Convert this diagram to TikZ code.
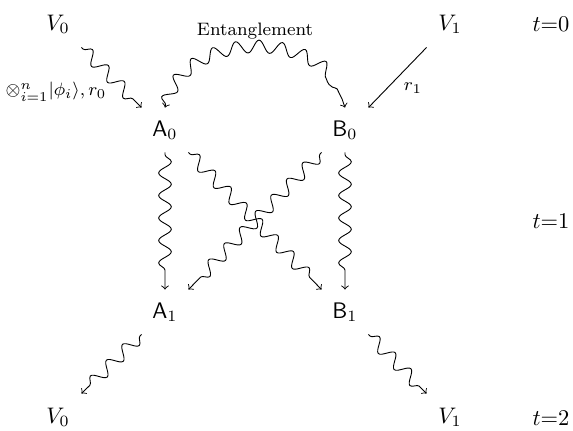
\documentclass[tikz,border=0pt]{standalone}
\usetikzlibrary{decorations.pathmorphing}
\begin{document}
\begin{tikzpicture}[x=0.4444pt,y=-0.4444pt,
  agent/.style={inner sep=0pt, minimum width=46*0.4444pt, minimum height=44*0.4444pt},
  vnode/.style={inner sep=0pt, minimum width=46*0.4444pt, minimum height=46*0.4444pt},
  tlab/.style={inner sep=0pt},
  wave/.style={decorate, decoration={snake, amplitude=2.8pt, segment length=10pt, pre length=1pt, post length=4pt}},
  lab/.style={font=\footnotesize, inner sep=0pt}]
\useasboundingbox (0,0) rectangle (573,430);
% nodes
\node[vnode] (V0t) at (58,24) {$V_0$};
\node[vnode] (V1t) at (450,24) {$V_1$};
\node[tlab] (t0) at (551,24) {$t$=0};
\node[agent] (A0) at (165,130) {$\mathsf{A}_0$};
\node[agent] (B0) at (345,130) {$\mathsf{B}_0$};
\node[tlab] (t1) at (551,221) {$t$=1};
\node[agent] (A1) at (165,312) {$\mathsf{A}_1$};
\node[agent] (B1) at (345,312) {$\mathsf{B}_1$};
\node[vnode] (V0b) at (58,417) {$V_0$};
\node[vnode] (V1b) at (450,417) {$V_1$};
\node[tlab] (t2) at (551,418) {$t$=2};
% labels
\node[lab] (ent) at (255,31) {Entanglement};
\node[lab] (r1) at (413,88) {$r_1$};
\node[lab] (phi) at (56,92) {$\otimes_{i=1}^{n}|\phi_i\rangle,r_0$};
% connectors
\draw[->,wave] (V0t.south east) -- (A0.north west);
\draw[<->,wave] (A0.north) to[out=75,in=105,looseness=1.1] (B0.north);
\draw[->] (V1t.south west) -- (B0.north east);
\draw[->,wave] (A0.south) -- (A1.north);
\draw[->,wave] (B0.south) -- (B1.north);
\draw[->,wave] (A0.south east) -- (B1.north west);
\draw[->,wave] (B0.south west) -- (A1.north east);
\draw[->,wave] (A1.south west) -- (V0b.north east);
\draw[->,wave] (B1.south east) -- (V1b.north west);
\end{tikzpicture}
\end{document}
